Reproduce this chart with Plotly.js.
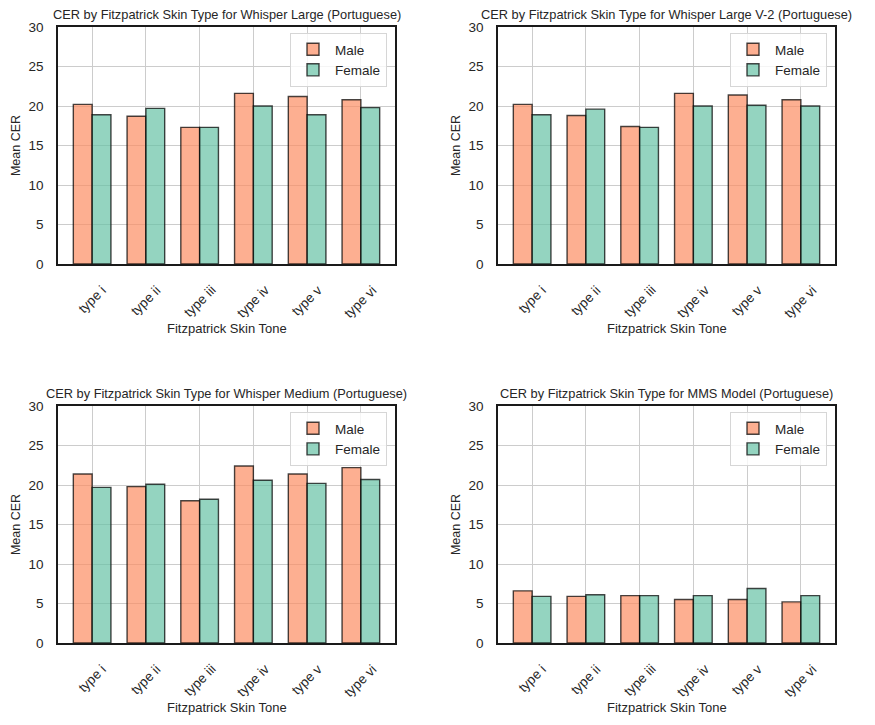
<!DOCTYPE html>
<html><head><meta charset="utf-8">
<script src="https://cdn.plot.ly/plotly-3.0.1.min.js"></script>
<style>html,body{margin:0;padding:0;background:#fff}</style>
</head><body><div id="chart" style="width:875px;height:725px"></div>
<script>
const categories = ["type i","type ii","type iii","type iv","type v","type vi"];
const titles = [
  "CER by Fitzpatrick Skin Type for Whisper Large (Portuguese)",
  "CER by Fitzpatrick Skin Type for Whisper Large V-2 (Portuguese)",
  "CER by Fitzpatrick Skin Type for Whisper Medium (Portuguese)",
  "CER by Fitzpatrick Skin Type for MMS Model (Portuguese)"
];
const xTitle = "Fitzpatrick Skin Tone";
const yTitle = "Mean CER";
const yTicks = [0,5,10,15,20,25,30];
const largeMale   = [20.2, 18.7, 17.3, 21.6, 21.2, 20.8];
const largeFemale = [18.9, 19.7, 17.3, 20.0, 18.9, 19.8];
const largeV2Male   = [20.2, 18.8, 17.4, 21.6, 21.4, 20.8];
const largeV2Female = [18.9, 19.6, 17.3, 20.0, 20.1, 20.0];
const mediumMale   = [21.4, 19.8, 18.0, 22.4, 21.4, 22.2];
const mediumFemale = [19.7, 20.1, 18.2, 20.6, 20.2, 20.7];
const mmsMale   = [6.6, 5.9, 6.0, 5.5, 5.5, 5.2];
const mmsFemale = [5.9, 6.1, 6.0, 6.0, 6.9, 6.0];

const maleSeries = [largeMale, largeV2Male, mediumMale, mmsMale];
const femaleSeries = [largeFemale, largeV2Female, mediumFemale, mmsFemale];

const W = 875, H = 725;
const xDom = [[58/W, 395/W],[498/W, 835/W],[58/W, 395/W],[498/W, 835/W]];
const yDom = [[(H-264)/H,(H-27)/H],[(H-264)/H,(H-27)/H],[(H-643)/H,(H-406)/H],[(H-643)/H,(H-406)/H]];

const font = "Liberation Sans, Arial, sans-serif";
const txt = "#262626";
const maleFill = "rgba(252,141,98,0.7)";
const femaleFill = "rgba(102,194,165,0.7)";
const edge = "rgba(0,0,0,0.72)";

const data = [];
const layout = {
  width: W, height: H, margin:{l:0,r:0,t:0,b:0},
  paper_bgcolor:"#fff", plot_bgcolor:"#fff",
  barmode:"group", bargap:0.3, bargroupgap:0,
  font:{family:font, color:txt, size:13},
  annotations:[], showlegend:true
};
for (let i=0;i<4;i++){
  const s = i===0?"":String(i+1);
  const legendName = "legend"+s;
  data.push({type:"bar", x:categories, y:maleSeries[i], name:"Male",
    xaxis:"x"+s, yaxis:"y"+s, legend:legendName,
    marker:{color:maleFill, line:{color:edge, width:1.4}}});
  data.push({type:"bar", x:categories, y:femaleSeries[i], name:"Female",
    xaxis:"x"+s, yaxis:"y"+s, legend:legendName,
    marker:{color:femaleFill, line:{color:edge, width:1.4}}});
  layout["xaxis"+s] = {domain:xDom[i], anchor:"y"+s, type:"category",
    range:[-0.635,5.635], showticklabels:false,
    showgrid:true, gridcolor:"#cccccc", gridwidth:1,
    showline:true, mirror:true, linecolor:"#1a1a1a", linewidth:1.8, ticks:"",
    zeroline:false, fixedrange:true};
  layout["yaxis"+s] = {domain:yDom[i], anchor:"x"+s, range:[0,30],
    tickvals:yTicks, tickfont:{size:13.5,color:txt},
    showgrid:true, gridcolor:"#cccccc", gridwidth:1,
    showline:true, mirror:true, linecolor:"#1a1a1a", linewidth:1.8, ticks:"",
    ticklabelstandoff:10,
    title:{text:yTitle, font:{size:12.5,color:txt}, standoff:5},
    zeroline:false, fixedrange:true};
  layout[legendName] = {x:xDom[i][1]-8/W, xanchor:"right", y:yDom[i][1]-6/H, yanchor:"top",
    bgcolor:"rgba(255,255,255,0.8)", bordercolor:"#d6d6d6", borderwidth:1,
    font:{size:13.5,color:txt}, tracegroupgap:0, itemwidth:34};
  layout.annotations.push({text:titles[i], xref:"paper", yref:"paper",
    x:(xDom[i][0]+xDom[i][1])/2, y:yDom[i][1]+3/H, xanchor:"center", yanchor:"bottom",
    showarrow:false, font:{size:12.8,color:txt}});
  for (const c of categories){
    layout.annotations.push({text:c, xref:"x"+s, yref:"paper", x:c,
      y:yDom[i][0]-16/H, xanchor:"center", yanchor:"top", textangle:-45,
      showarrow:false, font:{size:13.5,color:txt}});
  }
  layout.annotations.push({text:xTitle, xref:"paper", yref:"paper",
    x:(xDom[i][0]+xDom[i][1])/2, y:yDom[i][0]-55/H, xanchor:"center", yanchor:"top",
    showarrow:false, font:{size:13,color:txt}});
}
Plotly.newPlot("chart", data, layout, {displayModeBar:false, staticPlot:true});
</script></body></html>
